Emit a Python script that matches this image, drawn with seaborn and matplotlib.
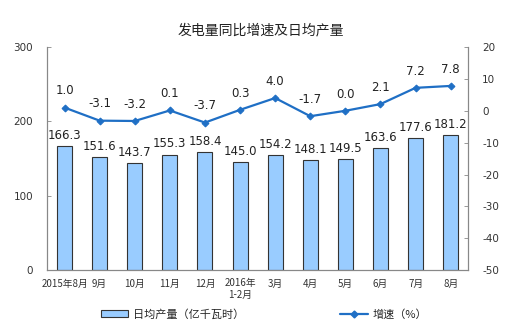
import matplotlib
matplotlib.use("Agg")
import matplotlib.pyplot as plt
import seaborn as sns
import numpy as np
import pandas as pd
from matplotlib.lines import Line2D
from matplotlib.patches import Patch

categories = ["2015年8月", "9月", "10月", "11月", "12月", "2016年\n1-2月",
              "3月", "4月", "5月", "6月", "7月", "8月"]
output = [166.3, 151.6, 143.7, 155.3, 158.4, 145.0, 154.2, 148.1, 149.5, 163.6, 177.6, 181.2]
growth = [1.0, -3.1, -3.2, 0.1, -3.7, 0.3, 4.0, -1.7, 0.0, 2.1, 7.2, 7.8]
left_ticks = [0, 100, 200, 300]
right_ticks = [20, 10, 0, -10, -20, -30, -40, -50]

sns.set_theme(style="white")
plt.rcParams['font.family'] = ['Noto Sans CJK SC', 'DejaVu Sans']
plt.rcParams['axes.unicode_minus'] = False

df = pd.DataFrame({"cat": categories, "output": output, "growth": growth,
                   "pos": np.arange(len(categories))})

fig = plt.figure(figsize=(5.22, 3.36), dpi=100)
ax = fig.add_axes([0.09, 0.196, 0.807, 0.664])

bar_color = "#99CCFF"
line_color = "#1F6FC5"

sns.barplot(data=df, x="cat", y="output", ax=ax, color=bar_color,
            edgecolor="#333333", linewidth=0.8, width=0.43, saturation=1)
ax.set_ylim(0, 300)
ax.set_yticks(left_ticks)
ax.set_xlim(-0.5, len(categories) - 0.5)
ax.set_xlabel("")
ax.set_ylabel("")
for i, v in enumerate(output):
    ax.text(i, v + 6, f"{v:.1f}", ha="center", va="bottom", fontsize=8.5,
            color="#222222", family="DejaVu Sans")

ax2 = ax.twinx()
sns.lineplot(data=df, x="pos", y="growth", ax=ax2, color=line_color,
             marker="D", markersize=3.5, linewidth=1.6, markeredgecolor=line_color)
ax2.set_ylim(-50, 20)
ax2.set_yticks(right_ticks)
ax2.set_xlim(-0.5, len(categories) - 0.5)
ax2.set_xlabel("")
ax2.set_ylabel("")
for i, v in enumerate(growth):
    ax2.text(i, v + 3.2, f"{v:.1f}", ha="center", va="bottom", fontsize=8.5,
             color="#222222", family="DejaVu Sans")

for a in (ax, ax2):
    for s in a.spines.values():
        s.set_color("#888888")
        s.set_linewidth(0.8)
    a.spines["top"].set_visible(False)
    a.tick_params(axis="y", labelsize=7.5, colors="#333333", length=3,
                  width=0.6, direction="in", pad=10)
    a.tick_params(axis="y", color="#888888")
    for t in a.get_yticklabels():
        t.set_family("DejaVu Sans")

ax.set_xticks(np.arange(len(categories)))
ax.set_xticklabels(categories, fontsize=7, color="#333333", linespacing=1.2)
ax.tick_params(axis="x", length=0, pad=6)
ax.set_xticks(np.arange(len(categories) + 1) - 0.5, minor=True)
ax.tick_params(axis="x", which="minor", length=3, direction="in", color="#888888", width=0.6)
ax2.tick_params(axis="x", which="both", bottom=False, labelbottom=False)
ax.tick_params(axis="y", which="both", left=True)
ax2.tick_params(axis="y", which="both", right=True)

fig.text(0.5, 0.91, "发电量同比增速及日均产量", ha="center", va="center",
         fontsize=10, color="#222222")

handles = [Patch(facecolor=bar_color, edgecolor="#333333", linewidth=0.8),
           Line2D([0], [0], color=line_color, marker="D", markersize=3.5, linewidth=1.6)]
fig.legend(handles[:1], ["日均产量（亿千瓦时）"], loc="center", bbox_to_anchor=(0.33, 0.065),
           frameon=False, fontsize=8, handlelength=2.5, handletextpad=0.4)
fig.legend(handles[1:], ["增速（%）"], loc="center", bbox_to_anchor=(0.735, 0.065),
           frameon=False, fontsize=8, handlelength=2.5, handletextpad=0.4)

fig.savefig("out.png", dpi=100)
